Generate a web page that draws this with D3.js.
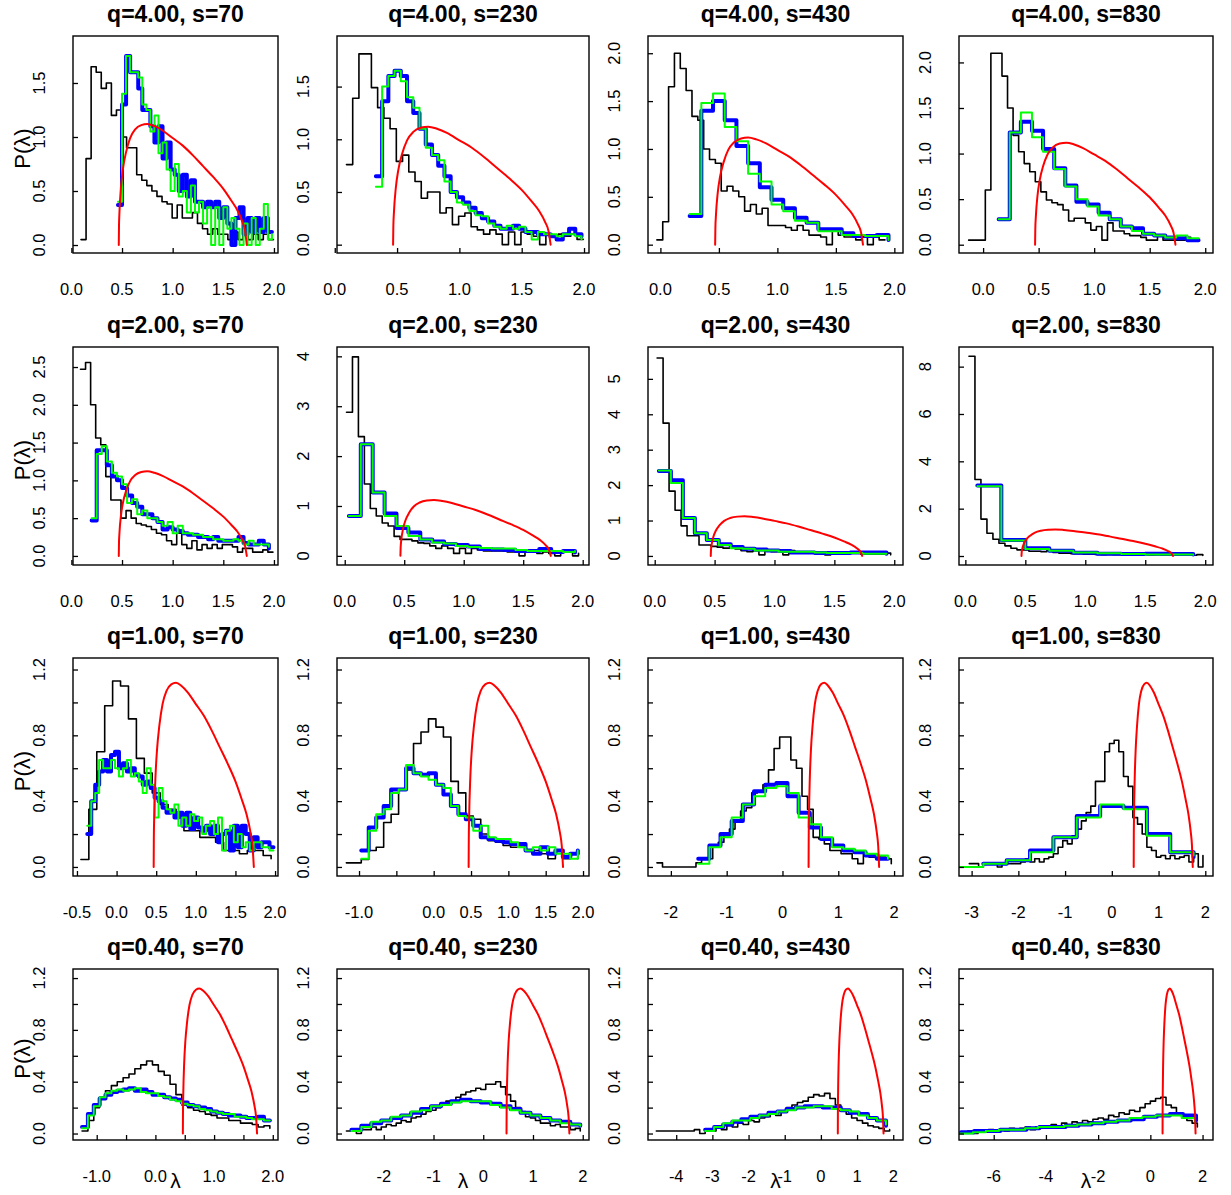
<!DOCTYPE html>
<html><head><meta charset="utf-8">
<style>body{margin:0;background:#fff}</style>
</head><body>
<svg width="1231" height="1195"></svg>
<script src="https://d3js.org/d3.v7.min.js"></script>
<script>

// panel headers
var qLabels = ["4.00", "2.00", "1.00", "0.40"];
var sLabels = ["70", "230", "430", "830"];

// red reference curve (same in all panels)
var redLambda  = [0.468,0.47,0.475,0.49,0.51,0.54,0.58,0.63,0.69,0.75,0.82,0.90,1.00,1.10,1.20,1.30,1.40,1.50,1.58,1.64,1.69,1.715,1.732];
var redDensity = [0,0.17,0.31,0.54,0.71,0.86,0.99,1.07,1.11,1.12,1.10,1.06,0.99,0.92,0.83,0.73,0.63,0.52,0.41,0.32,0.21,0.13,0];

// tick values / labels ("" = tick without label)
var tk02 = [0, 0.5, 1, 1.5, 2], lb02 = ["0.0","0.5","1.0","1.5","2.0"];
var tkY15 = [0, 0.5, 1, 1.5], lbY15 = ["0.0","0.5","1.0","1.5"];
var tkY12 = [0, 0.2, 0.4, 0.6, 0.8, 1.0, 1.2], lbY12 = ["0.0","","0.4","","0.8","","1.2"];

// histograms: [first bin mid, bin width, densities]
var p11 = {xlim:[0.016,2.04], ylim:[-0.074,1.935], xt:tk02, xl:lb02, yt:tkY15, yl:lbY15,
  black:[0.095,0.05,[0.05,0.80,1.65,1.60,1.45,1.50,1.20,1.25,1.00,0.90,0.90,0.65,0.60,0.55,0.50,0.45,0.40,0.38,0.25,0.37,0.25,0.25,0.30,0.20,0.15,0.10,0.15,0.10,0.10,0.05,0.12,0.05,0.10,0.05,0.10,0.05,0.10,0.05,0.05]],
  blue:[0.46,0.04,[0.37,1.3,1.75,1.6,1.6,1.45,1.25,1.25,1.1,0.95,1.1,0.8,0.95,0.7,0.65,0.5,0.65,0.45,0.6,0.4,0.4,0.35,0.4,0.35,0.4,0.25,0.35,0.2,0.0,0.25,0.35,0.1,0.25,0.12,0.25,0.12,0.25,0.12,0.12]],
  green:[0.46,0.04,[0.4,1.4,1.75,1.6,1.6,1.55,1.3,1.25,1.05,1.2,0.85,0.95,0.7,0.5,0.75,0.45,0.5,0.3,0.55,0.3,0.4,0.2,0.35,0.0,0.35,0.0,0.35,0.15,0.25,0.15,0.0,0.2,0.0,0.25,0.0,0.15,0.38,0.05,0.1]]};
var p12 = {xlim:[0.018,2.04], ylim:[-0.079,1.98], xt:tk02, xl:lb02, yt:tkY15, yl:lbY15,
  black:[0.094,0.05,[0.76,1.39,1.81,1.81,1.49,1.30,1.20,1.10,0.79,0.85,0.69,0.60,0.44,0.50,0.50,0.30,0.35,0.19,0.27,0.30,0.17,0.14,0.10,0.14,0.10,0.0,0.12,0.0,0.12,0.10,0.08,0.0,0.10,0.08,0.10,0.08,0.10,0.05,0.05]],
  blue:[0.33,0.05,[0.65,1.36,1.6,1.65,1.6,1.36,1.25,1.1,0.95,0.85,0.75,0.65,0.5,0.45,0.4,0.35,0.3,0.25,0.22,0.18,0.15,0.15,0.18,0.15,0.12,0.12,0.1,0.1,0.08,0.05,0.1,0.15,0.1,0.08]],
  green:[0.33,0.05,[0.55,1.5,1.6,1.65,1.55,1.4,1.3,1.1,0.92,0.85,0.8,0.6,0.5,0.4,0.38,0.32,0.28,0.27,0.2,0.17,0.15,0.18,0.15,0.17,0.12,0.05,0.12,0.1,0.1,0.08,0.1,0.1,0.08,0.05]]};
var p13 = {xlim:[-0.106,2.074], ylim:[-0.087,2.18], xt:tk02, xl:lb02, yt:[0,0.5,1,1.5,2], yl:["0.0","0.5","1.0","1.5","2.0"],
  black:[-0.03,0.05,[0.05,0.24,1.65,2.0,1.84,1.61,1.34,1.3,1.0,0.89,0.85,0.56,0.61,0.56,0.5,0.35,0.42,0.32,0.38,0.2,0.2,0.2,0.18,0.15,0.2,0.15,0.1,0.1,0.08,0.0,0.15,0.1,0.08,0.08,0.05,0.08,0.0,0.08,0.05,0.05]],
  blue:[0.25,0.1,[0.30,1.40,1.50,1.30,1.03,0.85,0.60,0.47,0.38,0.28,0.23,0.16,0.16,0.12,0.09,0.09,0.10,0.05]],
  green:[0.25,0.1,[0.32,1.48,1.58,1.23,1.08,0.74,0.66,0.42,0.35,0.25,0.23,0.14,0.14,0.10,0.10,0.09,0.09,0.05]]};
var p14 = {xlim:[-0.217,2.07], ylim:[-0.091,2.29], xt:tk02, xl:lb02, yt:[0,0.5,1,1.5,2], yl:["0.0","0.5","1.0","1.5","2.0"],
  black:[-0.13,0.05,[0.05,0.05,0.05,0.6,2.1,2.1,1.85,1.5,1.2,1.02,0.89,0.8,0.69,0.58,0.49,0.46,0.44,0.38,0.26,0.29,0.29,0.24,0.16,0.2,0.05,0.24,0.15,0.15,0.12,0.1,0.1,0.08,0.05,0.05,0.1,0.05,0.05,0.05,0.05,0.08,0.05,0.05]],
  blue:[0.14,0.1,[0.28,1.23,1.35,1.25,1.05,0.84,0.65,0.47,0.44,0.35,0.28,0.2,0.18,0.12,0.1,0.08,0.07,0.05,0.05]],
  green:[0.14,0.1,[0.28,1.23,1.45,1.18,1.02,0.83,0.64,0.5,0.42,0.32,0.28,0.2,0.15,0.12,0.1,0.08,0.1,0.07,0.07]]};

var p21 = {xlim:[0.016,2.04], ylim:[-0.12,2.765], xt:tk02, xl:lb02, yt:[0,0.5,1,1.5,2,2.5], yl:["0.0","0.5","1.0","1.5","2.0","2.5"],
  black:[0.09,0.05,[2.47,2.56,2.0,1.56,1.47,1.05,0.74,0.74,0.5,0.6,0.5,0.43,0.41,0.39,0.35,0.3,0.28,0.2,0.15,0.3,0.15,0.1,0.2,0.08,0.15,0.1,0.15,0.1,0.15,0.15,0.12,0.05,0.1,0.1,0.05,0.05,0.08,0.05,0.05]],
  blue:[0.2,0.05,[0.47,1.4,1.4,1.2,1.05,1.0,0.9,0.8,0.7,0.65,0.55,0.55,0.5,0.45,0.35,0.38,0.35,0.33,0.3,0.28,0.28,0.25,0.25,0.22,0.25,0.2,0.2,0.2,0.2,0.25,0.17,0.15,0.15,0.2,0.15,0.1]],
  green:[0.2,0.05,[0.5,1.35,1.45,1.25,1.1,1.05,0.95,0.7,0.75,0.55,0.6,0.5,0.5,0.45,0.4,0.45,0.3,0.4,0.3,0.3,0.28,0.28,0.25,0.25,0.22,0.22,0.2,0.2,0.22,0.2,0.15,0.2,0.15,0.15,0.15,0.12]]};
var p22 = {xlim:[-0.065,2.053], ylim:[-0.183,4.187], xt:tk02, xl:lb02, yt:[0,1,2,3,4], yl:["0","1","2","3","4"],
  black:[0.015,0.05,[2.88,3.99,2.39,1.44,0.95,0.8,0.66,0.6,0.39,0.33,0.33,0.3,0.26,0.25,0.2,0.15,0.2,0.15,0.05,0.15,0.05,0.15,0.12,0.1,0.1,0.1,0.1,0.08,0.08,0.0,0.08,0.08,0.05,0.08,0.05,0.0,0.1,0.08,0.0,0.05]],
  blue:[0.035,0.1,[0.8,2.24,1.27,0.85,0.56,0.47,0.33,0.29,0.24,0.22,0.19,0.14,0.13,0.12,0.1,0.1,0.14,0.08,0.1,0.07]],
  green:[0.035,0.1,[0.8,2.24,1.27,0.8,0.6,0.4,0.33,0.27,0.25,0.2,0.18,0.16,0.15,0.15,0.12,0.1,0.1,0.1,0.08,0.1]]};
var p23 = {xlim:[-0.056,2.073], ylim:[-0.256,5.9], xt:tk02, xl:lb02, yt:[0,1,2,3,4,5], yl:["0","1","2","3","4","5"],
  black:[0.02,0.05,[5.59,3.75,1.83,1.29,0.85,0.57,0.57,0.31,0.31,0.27,0.25,0.22,0.22,0.2,0.15,0.12,0.15,0.03,0.15,0.12,0.15,0.03,0.15,0.12,0.1,0.12,0.1,0.1,0.03,0.1,0.08,0.1,0.08,0.08,0.05,0.05,0.05,0.05,0.08,0.03]],
  blue:[0.035,0.1,[2.4,2.14,1.07,0.64,0.45,0.33,0.25,0.2,0.18,0.15,0.14,0.1,0.1,0.08,0.08,0.08,0.1,0.1,0.1,0.06]],
  green:[0.035,0.1,[2.41,2.06,1.07,0.64,0.45,0.31,0.22,0.2,0.15,0.15,0.12,0.12,0.12,0.1,0.08,0.08,0.08,0.06,0.06,0.06]]};
var p24 = {xlim:[-0.053,2.065], ylim:[-0.38,8.83], xt:tk02, xl:lb02, yt:[0,2,4,6,8], yl:["0","2","4","6","8"],
  black:[0.03,0.05,[8.44,3.23,1.56,0.96,0.71,0.54,0.43,0.33,0.26,0.26,0.2,0.2,0.18,0.25,0.15,0.12,0.12,0.1,0.1,0.08,0.08,0.07,0.06,0.07,0.05,0.06,0.05,0.05,0.04,0.05,0.04,0.05,0.04,0.04,0.05,0.03,0.04,0.03,0.06,0.02]],
  blue:[0.1,0.2,[2.98,0.68,0.33,0.22,0.14,0.1,0.09,0.1,0.08,0.06]],
  green:[0.1,0.2,[2.95,0.65,0.3,0.22,0.15,0.12,0.08,0.06,0.06,0.05]]};

var p31 = {xlim:[-0.55,2.037], ylim:[-0.055,1.27], xt:[-0.5,0,0.5,1,1.5,2], xl:["-0.5","0.0","0.5","1.0","1.5","2.0"], yt:tkY12, yl:lbY12,
  black:[-0.45,0.1,[0.045,0.35,0.70,0.98,1.13,1.10,0.90,0.66,0.57,0.45,0.38,0.35,0.3,0.22,0.22,0.18,0.18,0.15,0.1,0.1,0.08,0.1,0.1,0.07,0.05]],
  blue:[-0.37,0.05,[0.2,0.4,0.5,0.58,0.65,0.58,0.68,0.7,0.6,0.63,0.58,0.6,0.56,0.55,0.5,0.52,0.48,0.42,0.4,0.36,0.33,0.34,0.3,0.33,0.25,0.33,0.23,0.3,0.24,0.22,0.25,0.2,0.25,0.15,0.2,0.22,0.1,0.25,0.12,0.25,0.2,0.1,0.18,0.12,0.15,0.15,0.12,0.12]],
  green:[-0.37,0.05,[0.25,0.4,0.45,0.65,0.6,0.6,0.65,0.6,0.55,0.6,0.65,0.55,0.57,0.52,0.45,0.6,0.5,0.3,0.48,0.4,0.35,0.33,0.38,0.25,0.3,0.25,0.32,0.28,0.3,0.2,0.25,0.28,0.2,0.3,0.1,0.22,0.25,0.15,0.2,0.12,0.15,0.1,0.15,0.15,0.12,0.12,0.1,0.1]]};
var p32 = {xlim:[-1.295,2.08], ylim:[-0.055,1.27], xt:[-1,-0.5,0,0.5,1,1.5,2], xl:["-1.0","","0.0","0.5","1.0","1.5","2.0"], yt:tkY12, yl:lbY12,
  black:[-1.17,0.1,[0.025,0.025,0.045,0.1,0.12,0.27,0.32,0.47,0.59,0.75,0.82,0.9,0.85,0.79,0.52,0.45,0.31,0.29,0.2,0.16,0.15,0.13,0.12,0.12,0.1,0.1,0.08,0.05,0.1,0.05,0.08,0.05]],
  blue:[-0.97,0.1,[0.1,0.24,0.3,0.37,0.47,0.47,0.6,0.57,0.56,0.57,0.5,0.44,0.37,0.32,0.29,0.25,0.18,0.17,0.16,0.15,0.14,0.14,0.1,0.08,0.12,0.08,0.1,0.06,0.08,0.1]],
  green:[-0.97,0.1,[0.05,0.22,0.32,0.35,0.45,0.47,0.62,0.57,0.55,0.53,0.5,0.48,0.37,0.31,0.3,0.22,0.25,0.18,0.17,0.17,0.15,0.12,0.1,0.12,0.1,0.12,0.08,0.08,0.05,0.1]]};
var p33 = {xlim:[-2.41,2.16], ylim:[-0.055,1.27], xt:[-2,-1,0,1,2], xl:["-2","-1","0","1","2"], yt:tkY12, yl:lbY12,
  black:[-2.25,0.1,[0.025,0,0,0,0,0,0,0.025,0.05,0.05,0.12,0.15,0.19,0.23,0.28,0.34,0.36,0.45,0.46,0.5,0.59,0.72,0.79,0.79,0.65,0.6,0.43,0.35,0.18,0.17,0.14,0.1,0.1,0.08,0.08,0.05,0.02,0.08,0.06,0.07,0.06,0.05,0.02]],
  blue:[-1.51,0.2,[0.05,0.13,0.2,0.28,0.38,0.46,0.5,0.51,0.43,0.33,0.24,0.17,0.13,0.1,0.09,0.07,0.05,0.05]],
  green:[-1.51,0.2,[0.02,0.12,0.18,0.3,0.38,0.43,0.48,0.49,0.45,0.3,0.26,0.18,0.12,0.11,0.1,0.08,0.07,0.05]]};
var p34 = {xlim:[-3.27,2.165], ylim:[-0.055,1.27], xt:[-3,-2,-1,0,1,2], xl:["-3","-2","-1","0","1","2"], yt:tkY12, yl:lbY12,
  black:[-3.05,0.1,[0.02,0.02,0.0,0.02,0.02,0.02,0.0,0.02,0.02,0.02,0.02,0.03,0.05,0.03,0.05,0.03,0.05,0.06,0.08,0.12,0.16,0.14,0.19,0.23,0.28,0.33,0.37,0.52,0.52,0.7,0.75,0.77,0.7,0.55,0.49,0.3,0.26,0.2,0.12,0.1,0.06,0.07,0.05,0.07,0.05,0.06,0.07,0.03,0.08,0.0,0.07]],
  blue:[-2.75,0.5,[0.02,0.04,0.1,0.18,0.31,0.37,0.36,0.2,0.09,0.06]],
  green:[-3.25,0.5,[0.0,0.02,0.04,0.09,0.18,0.3,0.38,0.35,0.19,0.09,0.07]]};

var p41 = {xlim:[-1.404,2.089], ylim:[-0.05,1.27], xt:[-1,-0.5,0,0.5,1,1.5,2], xl:["-1.0","","0.0","","1.0","","2.0"], yt:tkY12, yl:lbY12,
  black:[-1.25,0.1,[0.02,0.1,0.2,0.28,0.33,0.37,0.4,0.43,0.46,0.5,0.53,0.56,0.53,0.48,0.45,0.38,0.3,0.22,0.2,0.18,0.17,0.15,0.14,0.12,0.12,0.1,0.1,0.08,0.08,0.07,0.05,0.06,0.04]],
  blue:[-1.25,0.1,[0.05,0.15,0.22,0.27,0.3,0.32,0.33,0.34,0.35,0.33,0.34,0.32,0.3,0.3,0.28,0.27,0.26,0.24,0.22,0.21,0.2,0.19,0.17,0.16,0.15,0.14,0.14,0.13,0.12,0.12,0.13,0.1,0.1]],
  green:[-1.25,0.1,[0.04,0.14,0.21,0.28,0.31,0.33,0.34,0.33,0.34,0.35,0.32,0.31,0.31,0.29,0.28,0.26,0.25,0.23,0.22,0.21,0.19,0.18,0.17,0.16,0.15,0.15,0.13,0.13,0.12,0.11,0.11,0.1,0.1]]};
var p42 = {xlim:[-2.94,2.126], ylim:[-0.05,1.27], xt:[-2,-1,0,1,2], xl:["-2","-1","0","1","2"], yt:tkY12, yl:lbY12,
  black:[-2.75,0.1,[0.02,0.02,0.0,0.03,0.03,0.05,0.03,0.05,0.07,0.06,0.08,0.1,0.09,0.12,0.13,0.15,0.17,0.18,0.2,0.22,0.25,0.25,0.28,0.3,0.32,0.33,0.35,0.34,0.38,0.38,0.4,0.36,0.3,0.25,0.2,0.17,0.13,0.12,0.1,0.08,0.08,0.06,0.07,0.05,0.05,0.03,0.04,0.02]],
  blue:[-2.65,0.2,[0.03,0.06,0.08,0.1,0.12,0.14,0.16,0.19,0.21,0.23,0.25,0.26,0.25,0.24,0.23,0.21,0.19,0.16,0.14,0.12,0.1,0.09,0.07,0.06]],
  green:[-2.65,0.2,[0.02,0.05,0.09,0.1,0.13,0.14,0.17,0.18,0.21,0.22,0.24,0.25,0.25,0.25,0.22,0.2,0.18,0.16,0.14,0.12,0.1,0.08,0.07,0.06]]};
var p43 = {xlim:[-4.78,2.27], ylim:[-0.05,1.27], xt:[-4,-3,-2,-1,0,1,2], xl:["-4","-3","-2","-1","0","1","2"], yt:tkY12, yl:lbY12,
  black:[-4.55,0.15,[0.02,0.02,0.02,0.02,0.02,0.02,0.02,0.03,0.0,0.03,0.02,0.05,0.03,0.06,0.05,0.08,0.07,0.1,0.09,0.12,0.13,0.15,0.14,0.17,0.2,0.22,0.24,0.25,0.28,0.3,0.29,0.31,0.27,0.22,0.18,0.15,0.12,0.1,0.08,0.06,0.05,0.04,0.02,0.03]],
  blue:[-3.2,0.25,[0.03,0.05,0.07,0.09,0.11,0.13,0.14,0.16,0.17,0.19,0.2,0.21,0.21,0.2,0.2,0.18,0.16,0.15,0.12,0.1,0.06]],
  green:[-3.2,0.25,[0.02,0.05,0.08,0.1,0.1,0.12,0.14,0.15,0.17,0.18,0.2,0.2,0.21,0.21,0.19,0.18,0.17,0.14,0.12,0.1,0.07]]};
var p44 = {xlim:[-7.33,2.40], ylim:[-0.05,1.27], xt:[-6,-4,-2,0,2], xl:["-6","-4","-2","0","2"], yt:tkY12, yl:lbY12,
  black:[-7.0,0.2,[0.02,0.0,0.02,0.02,0.03,0.02,0.03,0.02,0.04,0.03,0.04,0.05,0.03,0.05,0.06,0.05,0.07,0.06,0.08,0.07,0.09,0.08,0.1,0.09,0.11,0.12,0.11,0.14,0.13,0.16,0.15,0.18,0.17,0.2,0.23,0.25,0.27,0.28,0.22,0.2,0.16,0.13,0.1,0.08,0.05]],
  blue:[-7.25,0.5,[0.01,0.02,0.02,0.03,0.03,0.04,0.05,0.05,0.06,0.07,0.08,0.09,0.1,0.11,0.13,0.14,0.15,0.14,0.1]],
  green:[-7.3,0.5,[0.0,0.01,0.02,0.03,0.03,0.04,0.05,0.05,0.06,0.07,0.08,0.09,0.1,0.12,0.13,0.14,0.14,0.12,0.09]]};

var panels = [p11,p12,p13,p14, p21,p22,p23,p24, p31,p32,p33,p34, p41,p42,p43,p44];

// layout (plot boxes)
var colL = [73, 337, 648, 959], colR = [278, 589, 903, 1213];
var rowT = [36, 347, 658, 969], rowB = [253, 565, 876, 1140];
var font = "'Liberation Sans', Arial, Helvetica, sans-serif";

var svg = d3.select("svg");
svg.append("rect").attr("width", 1231).attr("height", 1195).attr("fill", "#fff");

function bins(spec) {
  return spec[2].map(function(v, i) { return [spec[0] + spec[1] * i, v]; });
}
var red = redLambda.map(function(l, i) { return [l, redDensity[i]]; });

panels.forEach(function(p, k) {
  var r = Math.floor(k / 4), c = k % 4;
  var L = colL[c], R = colR[c], T = rowT[r], B = rowB[r];
  var x = d3.scaleLinear().domain(p.xlim).range([L, R]);
  var y = d3.scaleLinear().domain(p.ylim).range([B, T]);
  var g = svg.append("g");

  g.append("clipPath").attr("id", "clip" + k)
    .append("rect").attr("x", L).attr("y", T).attr("width", R - L).attr("height", B - T);

  var step = d3.line()
      .x(function(d) { return x(d[0]); })
      .y(function(d) { return y(d[1]); })
      .curve(d3.curveStepAfter);
  var smooth = d3.line()
      .x(function(d) { return x(d[0]); })
      .y(function(d) { return y(d[1]); })
      .curve(d3.curveMonotoneX);

  var plot = g.append("g").attr("clip-path", "url(#clip" + k + ")")
      .attr("fill", "none").attr("stroke-linejoin", "round").attr("stroke-linecap", "round");
  plot.append("path").datum(bins(p.black)).attr("d", step).attr("stroke", "#000").attr("stroke-width", 1.6);
  plot.append("path").datum(bins(p.blue)).attr("d", step).attr("stroke", "#0000ff").attr("stroke-width", 4);
  plot.append("path").datum(bins(p.green)).attr("d", step).attr("stroke", "#00ff00").attr("stroke-width", 2);
  plot.append("path").datum(red).attr("d", smooth).attr("stroke", "#ff0000").attr("stroke-width", 2);

  // box
  g.append("rect").attr("x", L).attr("y", T).attr("width", R - L).attr("height", B - T)
    .attr("fill", "none").attr("stroke", "#000").attr("stroke-width", 1.4);

  // ticks point inward
  g.append("g").attr("transform", "translate(" + L + ",0)")
    .call(d3.axisLeft(y).tickValues(p.yt).tickSize(-5).tickFormat(""))
    .call(function(a) { a.select(".domain").remove(); a.selectAll("line").attr("stroke-width", 1.3); });
  g.append("g").attr("transform", "translate(0," + B + ")")
    .call(d3.axisBottom(x).tickValues(p.xt).tickSize(-5).tickFormat(""))
    .call(function(a) { a.select(".domain").remove(); a.selectAll("line").attr("stroke-width", 1.3); });

  // tick labels
  g.append("g").selectAll("text").data(p.yt).enter().append("text")
    .text(function(d, i) { return p.yl[i]; })
    .attr("transform", function(d) { return "translate(" + (L - 34) + "," + y(d) + ") rotate(-90)"; })
    .attr("text-anchor", "middle").attr("dy", "0.35em")
    .attr("font-family", font).attr("font-size", 16.5);
  g.append("g").selectAll("text").data(p.xt).enter().append("text")
    .text(function(d, i) { return p.xl[i]; })
    .attr("x", function(d) { return x(d); })
    .attr("y", B + 42)
    .attr("text-anchor", "middle")
    .attr("font-family", font).attr("font-size", 16.5);

  // title
  g.append("text").text("q=" + qLabels[r] + ", s=" + sLabels[c])
    .attr("x", (L + R) / 2).attr("y", 22 + 311 * r)
    .attr("text-anchor", "middle").attr("font-weight", "bold")
    .attr("font-family", font).attr("font-size", 23);

  if (c == 0) {
    g.append("text").text("P(\u03bb)")
      .attr("transform", "translate(30," + ((T + B) / 2 + 4) + ") rotate(-90)")
      .attr("text-anchor", "middle")
      .attr("font-family", font).attr("font-size", 22);
  }
  if (r == 3) {
    g.append("text").text("\u03bb")
      .attr("x", (L + R) / 2).attr("y", 1188)
      .attr("text-anchor", "middle")
      .attr("font-family", font).attr("font-size", 21);
  }
});

</script>
</body></html>
